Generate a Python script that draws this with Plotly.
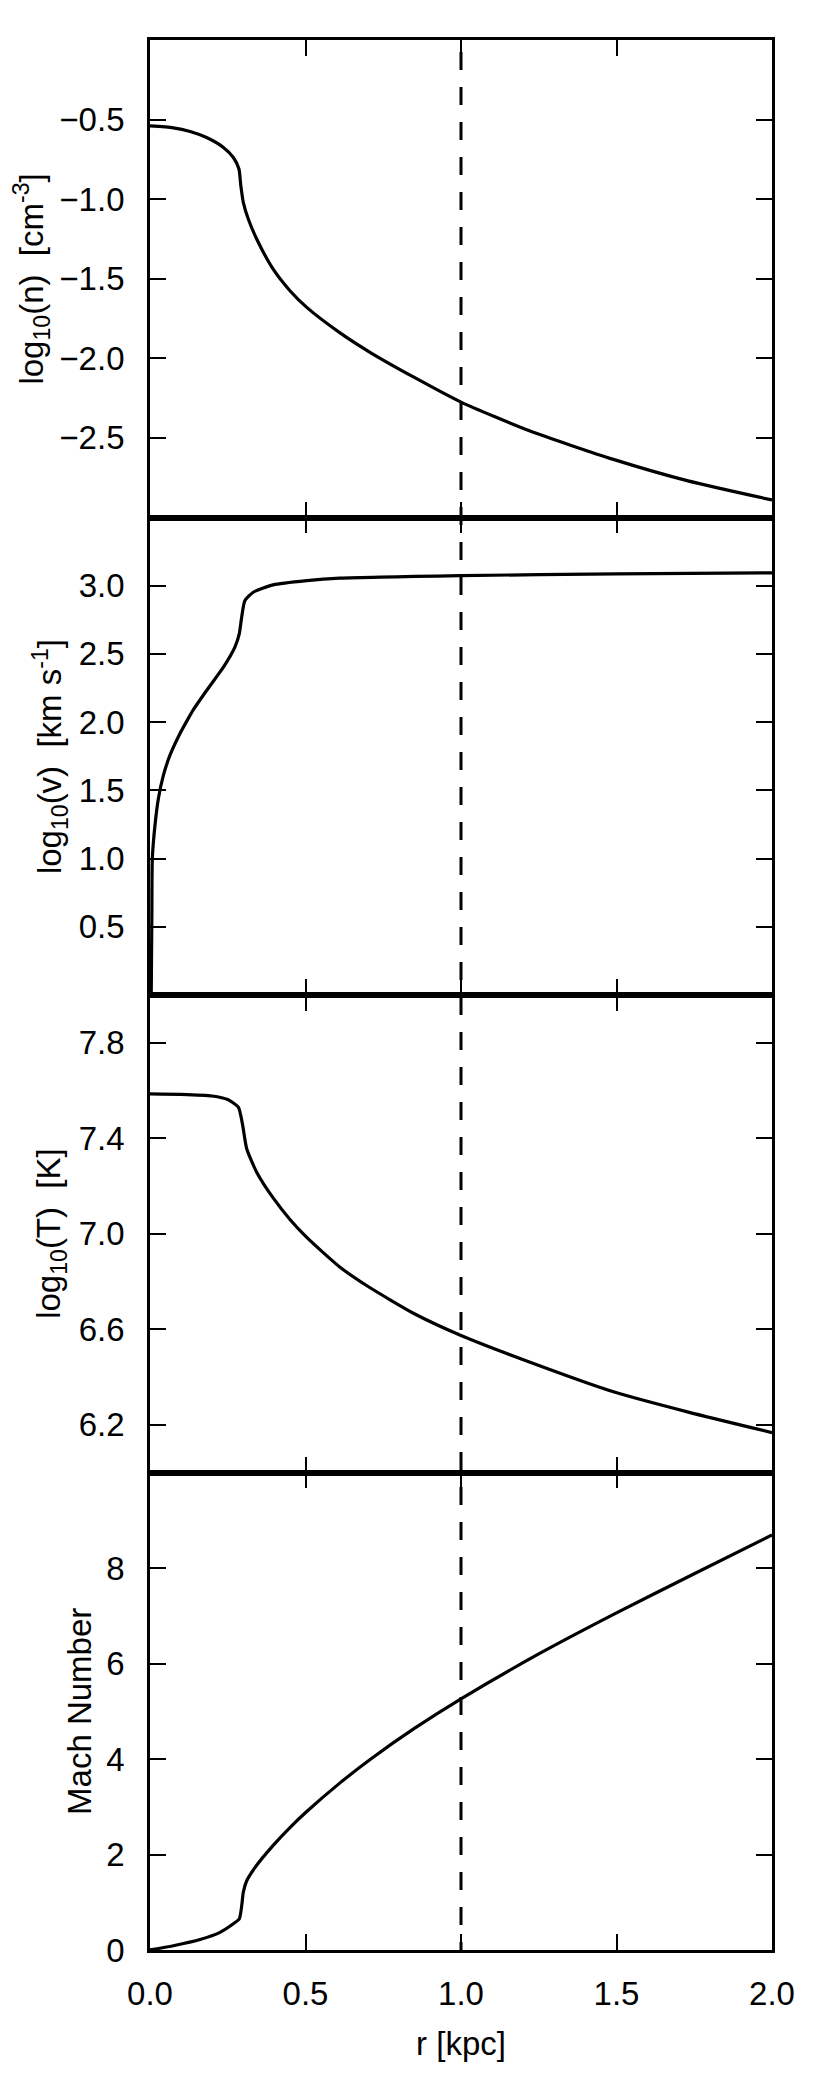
"""Four stacked radial profiles: density, velocity, temperature, Mach number."""
import plotly.graph_objects as go
from plotly.subplots import make_subplots

FONT = "Liberation Sans, Arial, Helvetica, sans-serif"
BLACK = "#000000"
FS = 33

# log10(n) [cm^-3]
r_n = [0, 0.075, 0.129, 0.182, 0.236, 0.268, 0.286, 0.292, 0.300, 0.316, 0.343,
       0.396, 0.45, 0.504, 0.611, 0.71, 0.85, 1.0, 1.22, 1.49, 1.73, 2.0]
log_n = [-0.54, -0.552, -0.575, -0.613, -0.675, -0.738, -0.81, -0.915, -1.02, -1.125, -1.25,
         -1.44, -1.575, -1.68, -1.84, -1.965, -2.12, -2.275, -2.455, -2.635, -2.77, -2.89]

# log10(v) [km s^-1]
r_v = [0.004, 0.006, 0.0075, 0.016, 0.027, 0.043, 0.064, 0.096, 0.12, 0.139, 0.182, 0.236,
       0.273, 0.287, 0.294, 0.305, 0.332, 0.396, 0.504, 0.611, 1.0, 1.5, 2.0]
log_v = [0.0, 0.6, 1.0, 1.244, 1.44, 1.61, 1.756, 1.915, 2.015, 2.09, 2.232, 2.403,
         2.55, 2.647, 2.757, 2.89, 2.952, 3.006, 3.037, 3.055, 3.074, 3.087, 3.094]

# log10(T) [K]
r_t = [0, 0.1, 0.2, 0.25, 0.284, 0.298, 0.311, 0.343, 0.396, 0.45, 0.504, 0.611,
       0.7, 0.85, 1.0, 1.22, 1.493, 1.731, 2.0]
log_t = [7.586, 7.584, 7.577, 7.562, 7.53, 7.454, 7.356, 7.258, 7.15, 7.06, 6.985, 6.86,
         6.78, 6.665, 6.574, 6.463, 6.337, 6.253, 6.167]

# Mach number
r_m = [0, 0.075, 0.161, 0.225, 0.268, 0.287, 0.295, 0.300, 0.311, 0.338, 0.396, 0.45,
       0.504, 0.611, 0.71, 0.85, 1.0, 1.25, 1.5, 1.75, 2.0]
mach = [0, 0.09, 0.22, 0.37, 0.55, 0.65, 0.93, 1.21, 1.45, 1.73, 2.19, 2.565,
        2.9, 3.5, 4.0, 4.64, 5.26, 6.2, 7.06, 7.88, 8.69]

R_MARK = 1.0  # dashed reference radius

x_ticks = [0.0, 0.5, 1.0, 1.5, 2.0]
x_ticktext = ["0.0", "0.5", "1.0", "1.5", "2.0"]

panels = [
    dict(r=r_n, y=log_n, rng=[-3.0, 0.0],
         tickvals=[-2.5, -2.0, -1.5, -1.0, -0.5],
         ticktext=["\u22122.5", "\u22122.0", "\u22121.5", "\u22121.0", "\u22120.5"],
         title="log<sub>10</sub>(n)  [cm<sup>-3</sup>]", title_x=-0.19),
    dict(r=r_v, y=log_v, rng=[0.0, 3.5],
         tickvals=[0.5, 1.0, 1.5, 2.0, 2.5, 3.0],
         ticktext=["0.5", "1.0", "1.5", "2.0", "2.5", "3.0"],
         title="log<sub>10</sub>(v)  [km s<sup>-1</sup>]", title_x=-0.161),
    dict(r=r_t, y=log_t, rng=[6.0, 8.0],
         tickvals=[6.2, 6.6, 7.0, 7.4, 7.8],
         ticktext=["6.2", "6.6", "7.0", "7.4", "7.8"],
         title="log<sub>10</sub>(T)  [K]", title_x=-0.159),
    dict(r=r_m, y=mach, rng=[0.0, 10.0],
         tickvals=[0, 2, 4, 6, 8],
         ticktext=["0", "2", "4", "6", "8"],
         title="Mach Number", title_x=-0.113),
]

fig = make_subplots(rows=4, cols=1, shared_xaxes=True, vertical_spacing=0)

axis_common = dict(
    showline=True, linewidth=2.8, linecolor=BLACK, mirror="ticks",
    ticks="inside", ticklen=16, tickwidth=1.5, tickcolor=BLACK,
    showgrid=False, zeroline=False,
    tickfont=dict(family=FONT, size=FS, color=BLACK),
)

for i, p in enumerate(panels, start=1):
    fig.add_scatter(x=p["r"], y=p["y"], mode="lines",
                    line=dict(color=BLACK, width=3.2, shape="spline", smoothing=0.6),
                    showlegend=False, row=i, col=1)
    fig.update_yaxes(range=p["rng"], tickvals=p["tickvals"], ticktext=p["ticktext"],
                     ticklabelstandoff=16, row=i, col=1, **axis_common)
    fig.update_xaxes(range=[0, 2], tickvals=x_ticks, ticktext=x_ticktext,
                     showticklabels=(i == 4), ticklabelstandoff=12,
                     row=i, col=1, **axis_common)
    # y titles placed as annotations so each sits at its own distance like the original
    yref = "y domain" if i == 1 else f"y{i} domain"
    fig.add_annotation(text=p["title"], xref="paper", yref=yref,
                       x=p["title_x"], y=0.5, xanchor="center", yanchor="middle",
                       textangle=-90, showarrow=False,
                       font=dict(family=FONT, size=FS, color=BLACK))

fig.update_xaxes(title=dict(text="r [kpc]", font=dict(family=FONT, size=FS, color=BLACK),
                            standoff=22), row=4, col=1)

fig.add_shape(type="line", xref="x", yref="paper", x0=R_MARK, x1=R_MARK, y0=1, y1=0,
              line=dict(color=BLACK, width=3, dash="0px,12px,18px,5px"))

fig.update_layout(
    width=830, height=2076,
    margin=dict(l=142, r=66, t=32, b=134),
    plot_bgcolor="white", paper_bgcolor="white",
    font=dict(family=FONT, color=BLACK),
    showlegend=False,
)

fig.write_html("out.html")
